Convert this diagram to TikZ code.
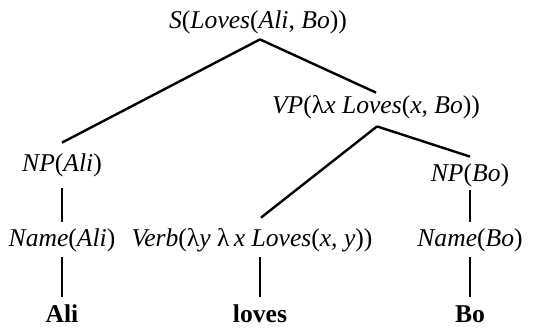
\documentclass[tikz,border=0pt]{standalone}
\usepackage{fontspec}
\setmainfont{Liberation Serif}
\usepackage{tikz}
\usetikzlibrary{positioning}
\tikzset{
  cat/.style={
    inner xsep=0pt, inner ysep=2pt,
    text height=8pt, text depth=2.5pt,
    anchor=base, font=\fontsize{12.8}{15}\selectfont
  },
  word/.style={cat, font=\fontsize{12.8}{15}\selectfont\bfseries},
  edge/.style={line width=1.2pt},
}

\begin{document}
\begin{tikzpicture}[x=0.5pt, y=-0.5pt]
\useasboundingbox (0,0) rectangle (555,327);

% categories with their meanings
\node[cat] at (258,28) (s) {\textit{S}(\textit{Loves}(\textit{Ali}, \textit{Bo}))};
\node[cat] at (376,113) (vp) {\textit{VP}(λ\textit{x}\ \textit{Loves}(\textit{x}, \textit{Bo}))};
\node[cat] at (62,171) (npa) {\textit{NP}(\textit{Ali})};
\node[cat] at (470,181) (npb) {\textit{NP}(\textit{Bo})};
\node[cat] at (62,246) (namea) {\textit{Name}(\textit{Ali})};
\node[cat] at (252,246) (verb) {\textit{Verb}(λ\textit{y}\ λ\,\textit{x}\ \textit{Loves}(\textit{x}, \textit{y}))};
\node[cat] at (470,246) (nameb) {\textit{Name}(\textit{Bo})};

% the words
\node[word] at (62,322) (ali) {Ali};
\node[word] at (260,322) (loves) {loves};
\node[word] at (470,322) (bo) {Bo};

% branches
\draw[edge] ([xshift=1pt, yshift=-1pt]s.south) -- ([yshift=4pt]npa.north);
\draw[edge] ([xshift=1pt, yshift=-1pt]s.south) -- (vp.north);
\draw[edge] ([xshift=0.5pt, yshift=-2pt]vp.south) -- ([xshift=4.5pt, yshift=4pt]verb.north);
\draw[edge] ([xshift=0.5pt, yshift=-2pt]vp.south) -- ([yshift=2pt]npb.north);
\draw[edge] ([yshift=-4pt]npa.south) -- ([yshift=2pt]namea.north);
\draw[edge] (npb.south) -- ([yshift=2pt]nameb.north);
\draw[edge] ([yshift=-1pt]namea.south) -- ([yshift=2.5pt]ali.north);
\draw[edge] ([xshift=4pt, yshift=-1pt]verb.south) -- ([yshift=2.5pt]loves.north);
\draw[edge] ([yshift=-1pt]nameb.south) -- ([yshift=2.5pt]bo.north);

\end{tikzpicture}
\end{document}
